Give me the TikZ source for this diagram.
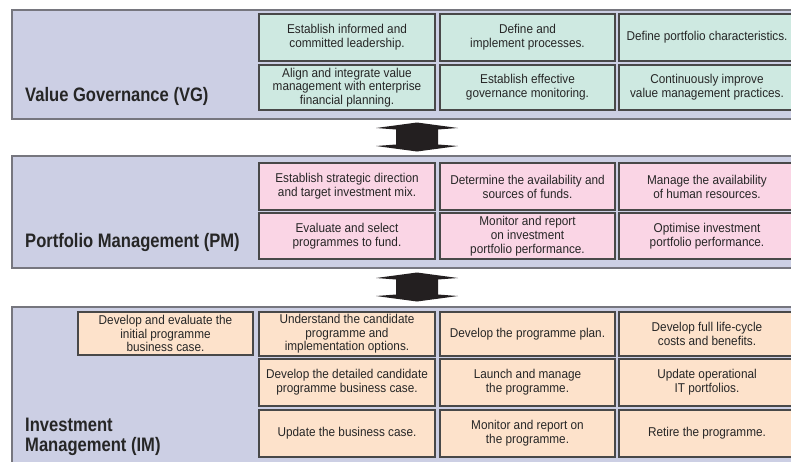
\documentclass[tikz,border=0pt]{standalone}
\usepackage{fontspec}
\setmainfont{Liberation Sans}
\newfontfamily\labelfont{Liberation Sans}[FakeStretch=0.85]
\newfontfamily\boxfont{Liberation Sans}[FakeStretch=0.92]
\definecolor{panelfill}{RGB}{204,207,228}
\definecolor{panelline}{RGB}{118,118,126}
\definecolor{vgfill}{RGB}{206,233,225}
\definecolor{pmfill}{RGB}{250,213,229}
\definecolor{imfill}{RGB}{253,226,203}
\definecolor{boxline}{RGB}{72,72,72}
\definecolor{txt}{RGB}{38,38,38}
\definecolor{arrowfill}{RGB}{35,31,32}
\begin{document}
\begin{tikzpicture}[x=1pt,y=-1pt,
  panel/.style={draw=panelline, line width=1.6pt, fill=panelfill, anchor=north west, inner sep=0pt},
  box/.style={draw=boxline, line width=1.1pt, align=center, text=txt, inner sep=0pt,
    font=\boxfont\fontsize{12.8}{14}\selectfont},
  tight/.style={font=\boxfont\fontsize{12.8}{13.5}\selectfont},
  c1/.style={minimum width=176pt}, c2/.style={minimum width=175pt}, c3/.style={minimum width=176pt},
  vgb/.style={box, fill=vgfill}, pmb/.style={box, fill=pmfill}, imb/.style={box, fill=imfill},
  lbl/.style={anchor=base west, align=left, inner sep=0pt, text=txt,
    font=\labelfont\bfseries\fontsize{19.5}{19.5}\selectfont},
  bigarrow/.style={fill=arrowfill}]
\clip (0,0) rectangle (791,461);
\fill[white] (0,0) rectangle (791,461);

% panels
\node[panel, minimum width=800pt, minimum height=109pt] (vg) at (11,9) {};
\node[panel, minimum width=800pt, minimum height=112pt] (pm) at (11,155) {};
\node[panel, minimum width=800pt, minimum height=170pt] (im) at (11,306) {};

% VG boxes
\node[vgb, c1, minimum height=47pt] (vg11) at (347,37.5) {Establish informed and\\committed leadership.};
\node[vgb, c2, minimum height=47pt] (vg12) at (527.5,37.5) {Define and\\implement processes.};
\node[vgb, c3, minimum height=47pt] (vg13) at (707,37.5) {Define portfolio characteristics.};
\node[vgb, tight, c1, minimum height=45pt] (vg21) at (347,87.5) {Align and integrate value\\management with enterprise\\financial planning.};
\node[vgb, c2, minimum height=45pt] (vg22) at (527.5,87.5) {Establish effective\\governance monitoring.};
\node[vgb, c3, minimum height=45pt] (vg23) at (707,87.5) {Continuously improve\\value management practices.};

% PM boxes
\node[pmb, c1, minimum height=47pt] (pm11) at (347,186.5) {Establish strategic direction\\and target investment mix.};
\node[pmb, c2, minimum height=47pt] (pm12) at (527.5,186.5) {Determine the availability and\\sources of funds.};
\node[pmb, c3, minimum height=47pt] (pm13) at (707,186.5) {Manage the availability\\of human resources.};
\node[pmb, c1, minimum height=46pt] (pm21) at (347,236) {Evaluate and select\\programmes to fund.};
\node[pmb, c2, minimum height=46pt] (pm22) at (527.5,236) {Monitor and report\\on investment\\portfolio performance.};
\node[pmb, c3, minimum height=46pt] (pm23) at (707,236) {Optimise investment\\portfolio performance.};

% IM boxes
\node[imb, tight, minimum width=175pt, minimum height=43pt] (im10) at (165.5,333.5) {Develop and evaluate the\\initial programme\\business case.};
\node[imb, tight, c1, minimum height=44pt] (im11) at (347,334) {Understand the candidate\\programme and\\implementation options.};
\node[imb, c2, minimum height=44pt] (im12) at (527.5,334) {Develop the programme plan.};
\node[imb, c3, minimum height=44pt] (im13) at (707,334) {Develop full life-cycle\\costs and benefits.};
\node[imb, c1, minimum height=47pt] (im21) at (347,382.5) {Develop the detailed candidate\\programme business case.};
\node[imb, c2, minimum height=47pt] (im22) at (527.5,382.5) {Launch and manage\\the programme.};
\node[imb, c3, minimum height=47pt] (im23) at (707,382.5) {Update operational\\IT portfolios.};
\node[imb, c1, minimum height=47pt] (im31) at (347,433.5) {Update the business case.};
\node[imb, c2, minimum height=47pt] (im32) at (527.5,433.5) {Monitor and report on\\the programme.};
\node[imb, c3, minimum height=47pt] (im33) at (707,433.5) {Retire the programme.};

% panel labels
\node[lbl] (vglbl) at (25,101) {Value Governance (VG)};
\node[lbl] (pmlbl) at (25,247) {Portfolio Management (PM)};
\node[lbl] (imlbl) at (25,451) {Investment\\Management (IM)};

% double arrows between panels
\foreach \n/\cy in {a1/137, a2/287}{
  \coordinate (\n) at (417,\cy);
  \fill[bigarrow] ([shift={(0,-14.5)}]\n) -- ([shift={(41,-9)}]\n) -- ([shift={(21,-7.5)}]\n)
    -- ([shift={(21,7.5)}]\n) -- ([shift={(41,9)}]\n) -- ([shift={(0,14.5)}]\n)
    -- ([shift={(-41,9)}]\n) -- ([shift={(-21,7.5)}]\n) -- ([shift={(-21,-7.5)}]\n)
    -- ([shift={(-41,-9)}]\n) -- cycle;
}
\end{tikzpicture}
\end{document}
